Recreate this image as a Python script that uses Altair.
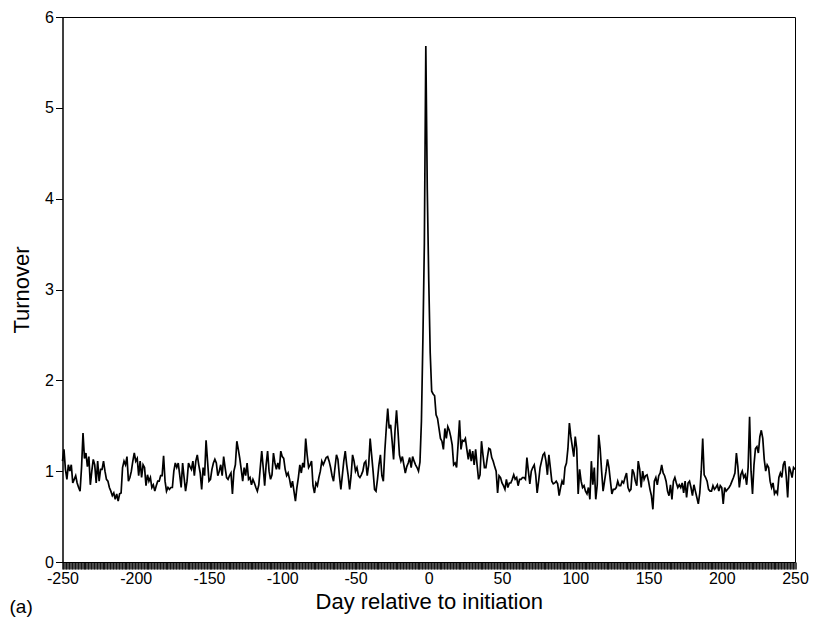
import altair as alt
import pandas as pd

# Turnover by day relative to initiation, days -250 .. 250
seg_a = [1.11,1.24,1.02,0.91,1.07,1.00,1.07,0.87,0.91,0.95,
         0.87,0.82,0.78,1.04,1.42,1.14,1.20,1.05,1.16,0.85,
         1.00,1.13,1.07,0.87,1.11,0.89,1.02,1.02,1.11,1.00,
         0.91,0.89,0.82,0.78,0.73,0.76,0.69,0.75,0.67,0.75,
         0.76,1.04,1.11,1.07,1.16,0.89,0.93,1.00,1.11,1.20,
         1.11,1.14,0.95,1.11,0.93,1.07,1.04,0.84,0.96,0.89,
         0.93,0.82,0.85,0.78,0.84,0.89,0.89,0.95,0.95,1.17,
         0.89,0.78,0.82,0.80,0.82,0.82,1.00,1.09,1.04,1.09,
         0.96,0.82]
seg_b = [1.09,0.93,0.78,0.89,1.09,1.05,1.02,1.11,0.95,1.11,
         1.18,1.07,0.98,0.80,1.04,0.95,1.34,1.11,0.89,0.91,
         1.02,1.09,1.13,1.09,0.95,1.00,1.07,0.95,1.16,1.04,
         0.93,0.91,0.95,0.98,0.75,1.00,1.07,1.33,1.24,1.14,
         1.02,0.89,1.04,0.95,1.09,0.91,0.93,0.85,0.91,0.87,
         0.82,0.78,0.85,1.04,1.22,1.04,0.84,1.07,1.22,1.00,
         0.91,0.96,1.20,1.09,1.02,1.09,1.02,1.22,1.16,1.14,
         1.02,0.95,0.98,0.91,0.82,0.89,0.78,0.67,0.82,0.93,
         1.07,0.98,1.09,1.04,1.36,1.18,1.04,1.07,1.11]
seg_c = [0.84,0.76,0.87,0.84,0.93,1.00,1.11,1.07,1.11,1.15,
         1.16,1.11,1.04,0.95,0.89,1.04,1.18,1.13,0.95,0.80,
         0.95,1.11,1.22,1.07,0.95,0.80,0.95,1.18,1.11,1.00,
         1.04,0.95,0.93,0.96,1.00,1.09,1.11,0.95,1.07,1.36,
         1.18,1.00,0.80,0.78,0.91,1.07,1.18,0.95,0.89,1.22,
         1.47,1.69,1.47,1.51,1.33,1.13,1.45,1.67,1.44,1.18,
         1.11,1.16,1.07,0.98,1.05,1.09,1.15,1.04,1.16,1.11,
         1.07,1.04,1.00]
seg_d = [1.10,1.55,2.45,3.50,5.68,4.10,3.10,2.30,1.88]
seg_e = [1.85,1.83,1.62,1.58,1.47,1.36,1.33,1.24,1.47,1.36,
         1.49,1.45,1.38,1.29,1.07,1.09,1.04,1.29,1.56,1.24,
         1.34,1.33,1.36,1.24,1.13,1.24,1.11,1.22,1.07,1.24,
         1.07,0.91,0.96,1.33,1.18,1.04,1.04,1.15,1.25,1.24,
         1.15,1.11,1.05,1.00,0.76,0.95,0.93,0.87,0.84,0.80,
         0.91,0.82,0.87,0.87,0.91,0.96,0.91,0.93,0.84,0.91,
         0.91,0.93,0.93,0.91,1.15,1.00,0.86,1.00,1.04,1.07,
         0.96,0.76,0.89,1.04,1.11,1.18,1.20,1.11,0.96,1.18,
         1.04,0.89,0.86,0.87,0.89,0.86,0.73]
seg_f = [0.82,0.89,0.85,1.04,1.09,1.25,1.53,1.38,1.27,1.16,
         1.38,1.25,0.75,1.02,0.89,0.82,0.84,0.78,0.75,0.82,
         0.69,1.11,0.85,1.04,0.69,0.85,1.40,1.25,1.00,0.78,
         0.89,1.00,1.13,1.04,0.89,0.75,0.80,0.80,0.82,0.89,
         0.84,0.84,0.89,0.87,0.93,0.98,0.82,0.78,0.80,1.02,
         0.98,0.89,0.84,1.11,1.02,0.82,1.00,0.91,0.95,0.96,
         0.89,0.80,0.73,0.58,0.89,0.93,0.85,0.95,0.98,1.07,
         0.98,0.95,0.89,0.78,0.73,0.85,0.69,0.89,0.93,0.87,
         0.82,0.85,0.82]
seg_g = [0.87,0.76,0.89,0.71,0.87,0.89,0.82,0.73,0.85,0.78,
         0.71,0.64,0.76,1.00,1.36,0.96,0.93,0.89,0.80,0.78,
         0.78,0.84,0.80,0.82,0.85,0.78,0.84,0.82,0.64,0.82,
         0.78,0.80,0.82,0.85,0.89,0.93,0.98,1.20,1.05,0.82,
         0.96,1.00,0.93,0.96,0.85,1.04,1.60,1.00,0.75,1.07,
         1.25,1.27,1.20,1.38,1.45,1.36,1.13,1.00,1.07,1.04,
         0.89,0.82,0.87,0.75,0.78,0.75,0.93,0.98,0.93,1.07,
         1.11,0.95,0.71,1.05,1.00,0.93,1.04,1.02]

turnover = seg_a + seg_b + seg_c + seg_d + seg_e + seg_f + seg_g
days = list(range(-250, -250 + len(turnover)))

x_ticks = list(range(-250, 251))
y_ticks = [0, 1, 2, 3, 4, 5, 6]

df = pd.DataFrame({"day": days, "turnover": turnover})

FONT = "Liberation Sans"

line = alt.Chart(df).mark_line(color="black", strokeWidth=1.7).encode(
    x=alt.X(
        "day:Q",
        scale=alt.Scale(domain=[-250, 250], nice=False, zero=False),
        axis=alt.Axis(
            title="Day relative to initiation",
            values=x_ticks,
            labelExpr="datum.value % 50 === 0 ? '' + datum.value : ''",
            labelOverlap=False,
            labelFlush=False,
            tickSize=7,
            tickWidth=1.4,
            labelPadding=1,
            titlePadding=5,
            grid=False,
        ),
    ),
    y=alt.Y(
        "turnover:Q",
        scale=alt.Scale(domain=[0, 6], nice=False),
        axis=alt.Axis(
            title="Turnover",
            values=y_ticks,
            tickSize=7,
            labelPadding=2,
            titlePadding=11,
            grid=False,
        ),
    ),
)

label_df = pd.DataFrame({"t": ["(a)"]})
panel_label = alt.Chart(label_df).mark_text(
    align="left", baseline="middle", font=FONT, fontSize=19, color="black"
).encode(x=alt.value(-53), y=alt.value(590), text="t:N")

chart = (
    alt.layer(line, panel_label)
    .properties(
        width=732.5,
        height=545,
        background="white",
        autosize=alt.AutoSizeParams(type="none"),
        padding={"left": 54.5, "top": 9, "right": 15, "bottom": 55},
    )
    .configure_view(stroke="black", strokeWidth=1)
    .configure_axis(
        domainColor="black",
        tickColor="black",
        labelColor="black",
        titleColor="black",
        labelFont=FONT,
        titleFont=FONT,
        labelFontSize=16,
        titleFontSize=22,
        titleFontWeight="normal",
    )
)

chart.save("out.html", embed_options={"renderer": "svg", "actions": False})
